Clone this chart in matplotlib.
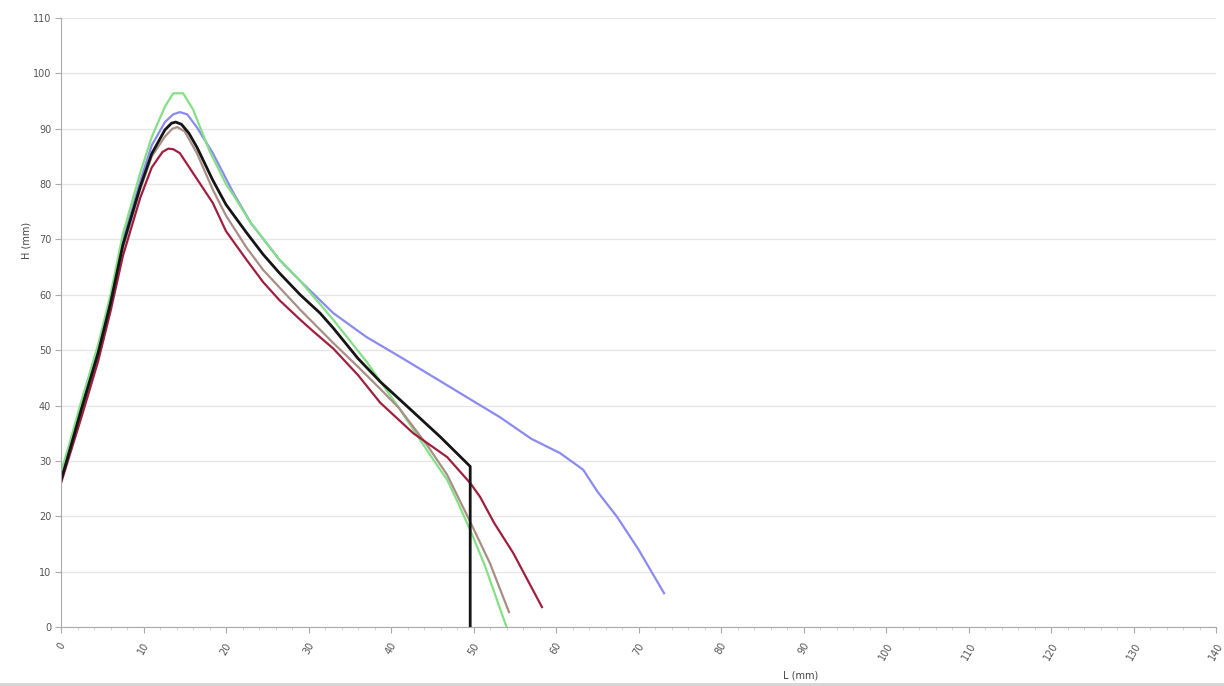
import matplotlib.pyplot as plt
from matplotlib.lines import Line2D
from matplotlib.ticker import MultipleLocator



# curve data (L in mm, H in mm)
GREEN_L=[0,1,2.5,4.5,6,7.5,9.6,11,12.6,13.6,14.8,16,18,20,20.9,23,26.5,29,33,37,41,45,46.8,48.1,49.6,51.4,54]
GREEN_H=[28,33,41,51,60,71,82,88.5,94,96.4,96.4,93.5,86,80,78,73,66.3,62.5,55.5,48,39.5,30.5,26.6,22.5,17.5,11,0]

BLUE_L=[0,2.5,4.5,6,7.5,9.6,11,12.6,13.6,14.4,15.3,16.5,18.4,20.9,23,26.5,29,33,37,41.1,45.1,49.2,53.2,57,60.5,63.3,65,67.4,70,73.1]
BLUE_H=[27,40,50,59.5,70,80.5,87,91.2,92.6,93,92.6,90.2,85.6,78.4,73,66.3,62.5,56.7,52.4,48.8,45.2,41.5,37.9,34,31.4,28.4,24.5,19.9,14,6.1]

BLACK_L=[0,0.5,2.5,4.5,6,7.5,9.6,11,12.6,13.4,13.9,14.6,15.5,16.5,18.4,20,22.5,24.5,26.5,29,31.4,33,36,38.7,42,46,49.6,49.6]
BLACK_H=[26.5,29,39.5,49.5,58.5,69,79.5,85.5,89.8,91,91.2,90.8,89.2,86.6,80.7,76.3,71.2,67.3,63.9,60,56.7,54,48.5,44.3,39.8,34.3,29,0]

BROWN_L=[0,2.5,4.5,6,7.5,9.6,11,12.6,13.5,14.1,15,16.5,18.4,20,22.5,24.5,26.5,29,33,36,38.7,41,44.4,46.8,49.6,52,54.3]
BROWN_H=[26.5,39,49,58,68.5,79,85,88.6,90,90.3,89.5,85.5,79,74.3,68.5,64.5,61.3,57.3,51.3,47,43,39.5,32.8,27.5,19,11.5,2.7]

RED_L=[0,2.5,4.5,6,7.5,9.6,11,12.3,13,13.6,14.4,16,18.4,20,22.5,24.5,26.5,29,30.5,33,36,38.7,42.7,46.8,49.6,50.8,52.5,54.8,58.3]
RED_H=[26,38,48,57,67,77.5,83,85.8,86.4,86.3,85.6,82,76.6,71.5,66.3,62.3,59,55.5,53.5,50.3,45.5,40.5,35,30.7,26,23.5,18.8,13.4,3.6]

X_TICKS=list(range(0,141,10))
Y_TICKS=list(range(0,111,10))



fig=plt.figure(figsize=(12.24,6.86),dpi=100)
ax=fig.add_axes([61/1224,1-627/686,(1216-61)/1224,(627-18)/686])

ax.plot(BLUE_L,BLUE_H,"-",color="#8a8af0",linewidth=1.6)
ax.plot(GREEN_L,GREEN_H,"-",color="#84e084",linewidth=1.6)
ax.plot(BROWN_L,BROWN_H,"-",color="#a88e84",linewidth=1.6)
ax.plot(RED_L,RED_H,"-",color="#a01f40",linewidth=1.6)
ax.plot(BLACK_L,BLACK_H,"-",color="#151515",linewidth=2)

ax.set_xlim(0,140)
ax.set_ylim(0,110)
ax.set_xticks(X_TICKS)
ax.set_yticks(Y_TICKS)
ax.xaxis.set_minor_locator(MultipleLocator(2))
ax.set_xticklabels([str(e) for e in X_TICKS],rotation=60,ha="center",fontsize=7,color="#555555")
ax.set_yticklabels([str(e) for e in Y_TICKS],fontsize=7,color="#555555")
ax.tick_params(axis="x",which="major",length=4,color="#aaaaaa",pad=6)
ax.tick_params(axis="y",which="major",length=4,color="#aaaaaa",pad=3)
ax.tick_params(axis="x",which="minor",length=2,color="#cccccc")
ax.grid(axis="y",color="#e6e6e6",linewidth=1)
ax.set_axisbelow(True)
for s in ("top","right"):
	ax.spines[s].set_visible(False)
for s in ("left","bottom"):
	ax.spines[s].set_color("#aaaaaa")

ax.set_ylabel("H (mm)",fontsize=7,color="#444444")
ax.yaxis.set_label_coords(-0.0255,0.635)
ax.set_xlabel("L (mm)",fontsize=7,color="#444444")
ax.xaxis.set_label_coords(0.64,-0.072)

fig.add_artist(Line2D([0,1],[1-684/686,1-684/686],color="#d4d4d4",linewidth=2,transform=fig.transFigure))

fig.savefig("out.png",dpi=100)
